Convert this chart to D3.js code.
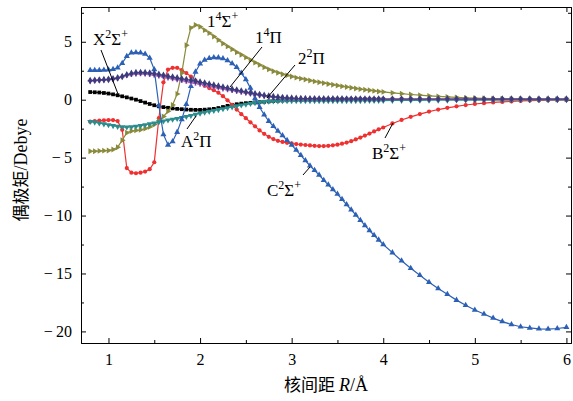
<!DOCTYPE html>
<html lang="en">
<head>
  <meta charset="UTF-8">
  <title>Dipole moment vs R</title>
  <script src="https://d3js.org/d3.v7.min.js"></script>
  <style>
    body { margin: 0; background: #fff; }
    .axis path, .axis line { stroke: #000; stroke-width: 1px; }
    .axis text { font-family: "Liberation Serif", serif; font-size: 16px; fill: #000; }
    .lbl { font-family: "Liberation Serif", serif; font-size: 17px; fill: #000; }
    .lead { stroke: #000; stroke-width: 1px; }
  </style>
</head>
<body>
  <script>
    // internuclear distance R (Å)
    const R = [0.80,0.85,0.90,0.95,1.00,1.05,1.10,1.15,1.20,1.25,
      1.30,1.35,1.40,1.45,1.50,1.55,1.60,1.65,1.70,1.75,
      1.80,1.85,1.90,1.95,2.00,2.05,2.10,2.15,2.20,2.25,
      2.30,2.35,2.40,2.45,2.50,2.55,2.60,2.65,2.70,2.75,
      2.80,2.85,2.90,2.95,3.00,3.05,3.10,3.15,3.20,3.25,
      3.30,3.35,3.40,3.45,3.50,3.55,3.60,3.65,3.70,3.75,
      3.80,3.85,3.90,3.95,4.00,
      4.1,4.2,4.3,4.4,4.5,4.6,4.7,4.8,4.9,5.0,
      5.1,5.2,5.3,5.4,5.5,5.6,5.7,5.8,5.9,6.0];

    // dipole moments (Debye)
    const X2S = [0.66,0.64,0.62,0.58,0.53,0.46,0.38,0.29,0.20,0.10,
      0.00,-0.12,-0.25,-0.37,-0.48,-0.57,-0.64,-0.70,-0.75,-0.79,
      -0.82,-0.85,-0.87,-0.88,-0.88,-0.86,-0.83,-0.79,-0.72,-0.63,
      -0.53,-0.45,-0.39,-0.34,-0.30,-0.27,-0.24,-0.21,-0.18,-0.15,
      -0.12,-0.09,-0.07,-0.05,-0.04,-0.03,-0.02,-0.01,0.00,0.01,
      0.02,0.02,0.03,0.03,0.03,0.03,0.03,0.03,0.03,0.03,
      0.03,0.03,0.03,0.03,0.03,
      0.03,0.03,0.03,0.03,0.03,0.03,0.03,0.03,0.03,0.03,
      0.03,0.03,0.03,0.03,0.03,0.03,0.03,0.03,0.03,0.03];
    const B2S = [-1.9,-1.85,-1.8,-1.78,-1.76,-1.76,-1.85,-2.6,-5.9,-6.3,
      -6.35,-6.3,-6.2,-6.0,-5.4,-1.6,1.5,2.6,2.75,2.75,
      2.55,2.3,2.0,1.65,1.4,1.2,1.0,0.82,0.6,0.3,
      -0.05,-0.45,-0.85,-1.25,-1.6,-1.95,-2.3,-2.65,-2.95,-3.2,
      -3.4,-3.55,-3.65,-3.72,-3.78,-3.83,-3.87,-3.91,-3.95,-3.98,
      -4.0,-4.0,-3.98,-3.94,-3.88,-3.8,-3.7,-3.58,-3.43,-3.27,
      -3.1,-2.92,-2.74,-2.56,-2.4,
      -2.05,-1.75,-1.48,-1.24,-1.03,-0.85,-0.7,-0.57,-0.46,-0.37,
      -0.3,-0.24,-0.19,-0.15,-0.11,-0.08,-0.06,-0.04,-0.03,-0.02];
    const S14 = [-4.45,-4.45,-4.42,-4.4,-4.38,-4.3,-4.1,-3.5,-2.85,-2.7,
      -2.65,-2.6,-2.5,-2.35,-2.15,-1.85,-1.45,-1.0,-0.45,0.5,
      2.3,4.7,6.2,6.45,6.3,6.0,5.75,5.45,5.15,4.85,
      4.6,4.35,4.1,3.88,3.65,3.42,3.2,3.0,2.8,2.62,
      2.45,2.32,2.2,2.1,2.0,1.9,1.82,1.74,1.66,1.58,
      1.5,1.43,1.36,1.29,1.22,1.15,1.09,1.03,0.97,0.91,
      0.86,0.81,0.76,0.71,0.67,
      0.59,0.52,0.45,0.39,0.33,0.28,0.24,0.2,0.16,0.13,
      0.11,0.09,0.08,0.07,0.06,0.05,0.05,0.04,0.04,0.04];
    const A2P = [-1.9,-1.95,-2.02,-2.1,-2.18,-2.25,-2.32,-2.36,-2.37,-2.35,
      -2.3,-2.25,-2.18,-2.1,-2.02,-1.93,-1.85,-1.77,-1.7,-1.63,
      -1.55,-1.47,-1.38,-1.28,-1.18,-1.1,-1.02,-0.95,-0.87,-0.79,
      -0.71,-0.63,-0.55,-0.47,-0.4,-0.33,-0.27,-0.22,-0.18,-0.15,
      -0.13,-0.12,-0.11,-0.11,-0.11,-0.11,-0.11,-0.11,-0.1,-0.1,
      -0.1,-0.1,-0.1,-0.1,-0.1,-0.09,-0.09,-0.09,-0.09,-0.09,
      -0.08,-0.08,-0.08,-0.08,-0.08,
      -0.07,-0.07,-0.06,-0.06,-0.05,-0.05,-0.05,-0.04,-0.04,-0.04,
      -0.03,-0.03,-0.03,-0.03,-0.02,-0.02,-0.02,-0.02,-0.02,-0.02];
    const C2S = [2.55,2.55,2.55,2.56,2.58,2.62,2.75,3.15,3.75,4.05,
      4.08,4.05,3.95,3.6,2.6,-0.5,-3.0,-3.9,-3.6,-2.8,
      -1.7,-0.4,1.15,2.4,3.1,3.42,3.58,3.65,3.63,3.55,
      3.38,3.12,2.8,2.3,1.75,1.0,0.1,-0.65,-1.3,-1.85,
      -2.3,-2.7,-3.1,-3.5,-3.9,-4.35,-4.8,-5.25,-5.7,-6.1,
      -6.5,-6.95,-7.35,-7.75,-8.15,-8.6,-9.05,-9.5,-9.95,-10.4,
      -10.85,-11.3,-11.7,-12.1,-12.5,
      -13.2,-13.9,-14.55,-15.15,-15.75,-16.3,-16.8,-17.3,-17.75,-18.15,
      -18.5,-18.85,-19.15,-19.4,-19.6,-19.7,-19.78,-19.8,-19.75,-19.65];
    const P22 = [1.62,1.65,1.68,1.71,1.74,1.78,1.86,1.98,2.1,2.19,
      2.23,2.24,2.22,2.18,2.12,2.05,1.97,1.89,1.82,1.74,
      1.66,1.58,1.5,1.42,1.34,1.26,1.18,1.1,1.02,0.94,
      0.87,0.8,0.73,0.66,0.59,0.52,0.45,0.39,0.33,0.27,
      0.22,0.18,0.15,0.12,0.1,0.08,0.07,0.06,0.05,0.05,
      0.05,0.05,0.05,0.05,0.05,0.05,0.05,0.05,0.05,0.05,
      0.04,0.04,0.04,0.04,0.04,
      0.04,0.04,0.04,0.04,0.04,0.04,0.04,0.04,0.04,0.04,
      0.03,0.03,0.03,0.03,0.03,0.03,0.03,0.03,0.03,0.03];
    const P14 = [1.65,1.68,1.7,1.73,1.76,1.8,1.88,2.0,2.15,2.27,
      2.33,2.35,2.33,2.3,2.25,2.18,2.1,2.02,1.95,1.88,
      1.8,1.74,1.68,1.6,1.52,1.43,1.34,1.25,1.17,1.08,
      1.0,0.91,0.83,0.75,0.67,0.59,0.51,0.44,0.37,0.31,
      0.26,0.22,0.18,0.15,0.13,0.11,0.1,0.09,0.08,0.08,
      0.07,0.07,0.07,0.07,0.07,0.07,0.06,0.06,0.06,0.06,
      0.06,0.06,0.06,0.06,0.06,
      0.06,0.06,0.06,0.06,0.06,0.06,0.06,0.06,0.06,0.06,
      0.05,0.05,0.05,0.05,0.05,0.05,0.05,0.05,0.05,0.05];

    const xTicks = [1, 2, 3, 4, 5, 6];
    const xMinor = [1.5, 2.5, 3.5, 4.5, 5.5];
    const yTicks = [5, 0, -5, -10, -15, -20];
    const yMinor = [7.5, 2.5, -2.5, -7.5, -12.5, -17.5];

    const series = [
      { v: X2S, color: "#000000", sym: d3.symbolSquare, size: 14, rot: 0 },
      { v: B2S, color: "#ee3030", sym: d3.symbolCircle, size: 14, rot: 0 },
      { v: S14, color: "#8a8a3c", sym: d3.symbolTriangle, size: 15, rot: 90 },
      { v: A2P, color: "#2a8c8c", sym: d3.symbolTriangle, size: 15, rot: 180 },
      { v: C2S, color: "#2c60b5", sym: d3.symbolTriangle, size: 16, rot: 0 },
      { v: P22, color: "#b064c0", sym: d3.symbolCross, size: 15, rot: 0 },
      { v: P14, color: "#3c3c7c", sym: d3.symbolDiamond, size: 17, rot: 0 }
    ];

    const W = 573, H = 401;
    const padL = 81, padR = 571, padT = 7, padB = 343;

    const svg = d3.select("body").append("svg")
      .attr("width", W).attr("height", H);

    const x = d3.scaleLinear().domain([0.7, 6.05]).range([padL, padR]);
    const y = d3.scaleLinear().domain([-21, 8]).range([padB, padT]);

    const fmt = d => d < 0 ? "\u2212\u2009" + Math.abs(d) : String(d);

    // axes, ticks pointing inward
    svg.append("g").attr("class", "axis")
      .attr("transform", `translate(0,${padB})`)
      .call(d3.axisBottom(x).tickValues(xTicks).tickFormat(fmt).tickSize(-5).tickPadding(11).tickSizeOuter(0));
    svg.append("g").attr("class", "axis")
      .attr("transform", `translate(0,${padB})`)
      .call(d3.axisBottom(x).tickValues(xMinor).tickFormat("").tickSize(-3).tickSizeOuter(0));
    svg.append("g").attr("class", "axis")
      .attr("transform", `translate(0,${padT})`)
      .call(d3.axisTop(x).tickValues(xTicks).tickFormat("").tickSize(-5).tickSizeOuter(0));
    svg.append("g").attr("class", "axis")
      .attr("transform", `translate(0,${padT})`)
      .call(d3.axisTop(x).tickValues(xMinor).tickFormat("").tickSize(-3).tickSizeOuter(0));
    svg.append("g").attr("class", "axis")
      .attr("transform", `translate(${padL},0)`)
      .call(d3.axisLeft(y).tickValues(yTicks).tickFormat(fmt).tickSize(-5).tickPadding(9).tickSizeOuter(0));
    svg.append("g").attr("class", "axis")
      .attr("transform", `translate(${padL},0)`)
      .call(d3.axisLeft(y).tickValues(yMinor).tickFormat("").tickSize(-3).tickSizeOuter(0));
    svg.append("g").attr("class", "axis")
      .attr("transform", `translate(${padR},0)`)
      .call(d3.axisRight(y).tickValues(yTicks).tickFormat("").tickSize(-5).tickSizeOuter(0));
    svg.append("g").attr("class", "axis")
      .attr("transform", `translate(${padR},0)`)
      .call(d3.axisRight(y).tickValues(yMinor).tickFormat("").tickSize(-3).tickSizeOuter(0));

    // curves
    const line = d3.line().x((d, i) => x(R[i])).y(d => y(d));
    series.forEach(s => {
      const g = svg.append("g");
      g.append("path")
        .attr("d", line(s.v))
        .attr("fill", "none")
        .attr("stroke", s.color)
        .attr("stroke-width", 1.2);
      g.selectAll("path.m")
        .data(s.v)
        .enter().append("path")
        .attr("class", "m")
        .attr("d", d3.symbol().type(s.sym).size(s.size))
        .attr("transform", (d, i) => `translate(${x(R[i])},${y(d)}) rotate(${s.rot})`)
        .attr("fill", s.color);
    });

    // state labels with superscripts
    function label(px, py, parts) {
      const t = svg.append("text").attr("class", "lbl").attr("x", px).attr("y", py);
      parts.forEach(p => {
        if (p[1] === "sup") {
          t.append("tspan").attr("dy", -7).attr("font-size", 12).text(p[0]);
        } else if (p[1] === "back") {
          t.append("tspan").attr("dy", 7).text(p[0]);
        } else {
          t.append("tspan").text(p[0]);
        }
      });
    }
    label(93, 45, [["X"], ["2", "sup"], ["\u03A3", "back"], ["+", "sup"]]);
    label(207, 27, [["1"], ["4", "sup"], ["\u03A3", "back"], ["+", "sup"]]);
    label(255, 43, [["1"], ["4", "sup"], ["\u03A0", "back"]]);
    label(298, 64, [["2"], ["2", "sup"], ["\u03A0", "back"]]);
    label(181, 147, [["A"], ["2", "sup"], ["\u03A0", "back"]]);
    label(372, 159, [["B"], ["2", "sup"], ["\u03A3", "back"], ["+", "sup"]]);
    label(267, 196, [["C"], ["2", "sup"], ["\u03A3", "back"], ["+", "sup"]]);

    const leaders = [
      [101, 50, 118, 94], [262, 47, 230, 87], [295, 65, 267, 98],
      [187, 129, 196, 116], [385, 138, 393, 123], [303, 175, 310, 167]
    ];
    svg.selectAll("line.lead").data(leaders).enter().append("line")
      .attr("class", "lead")
      .attr("x1", d => d[0]).attr("y1", d => d[1])
      .attr("x2", d => d[2]).attr("y2", d => d[3]);

    // axis titles
    const xt = svg.append("text").attr("class", "lbl")
      .attr("x", 326).attr("y", 391).attr("text-anchor", "middle");
    xt.append("tspan").attr("font-family", "Noto Sans CJK SC").attr("font-size", 17).text("核间距 ");
    xt.append("tspan").attr("font-style", "italic").attr("font-size", 18).text("R");
    xt.append("tspan").attr("font-size", 18).text("/Å");

    const yt = svg.append("text").attr("class", "lbl")
      .attr("transform", "translate(27,170) rotate(-90)")
      .attr("text-anchor", "middle");
    yt.append("tspan").attr("font-family", "Noto Sans CJK SC").attr("font-size", 17).text("偶极矩");
    yt.append("tspan").attr("font-size", 18).text("/Debye");
  </script>
</body>
</html>
